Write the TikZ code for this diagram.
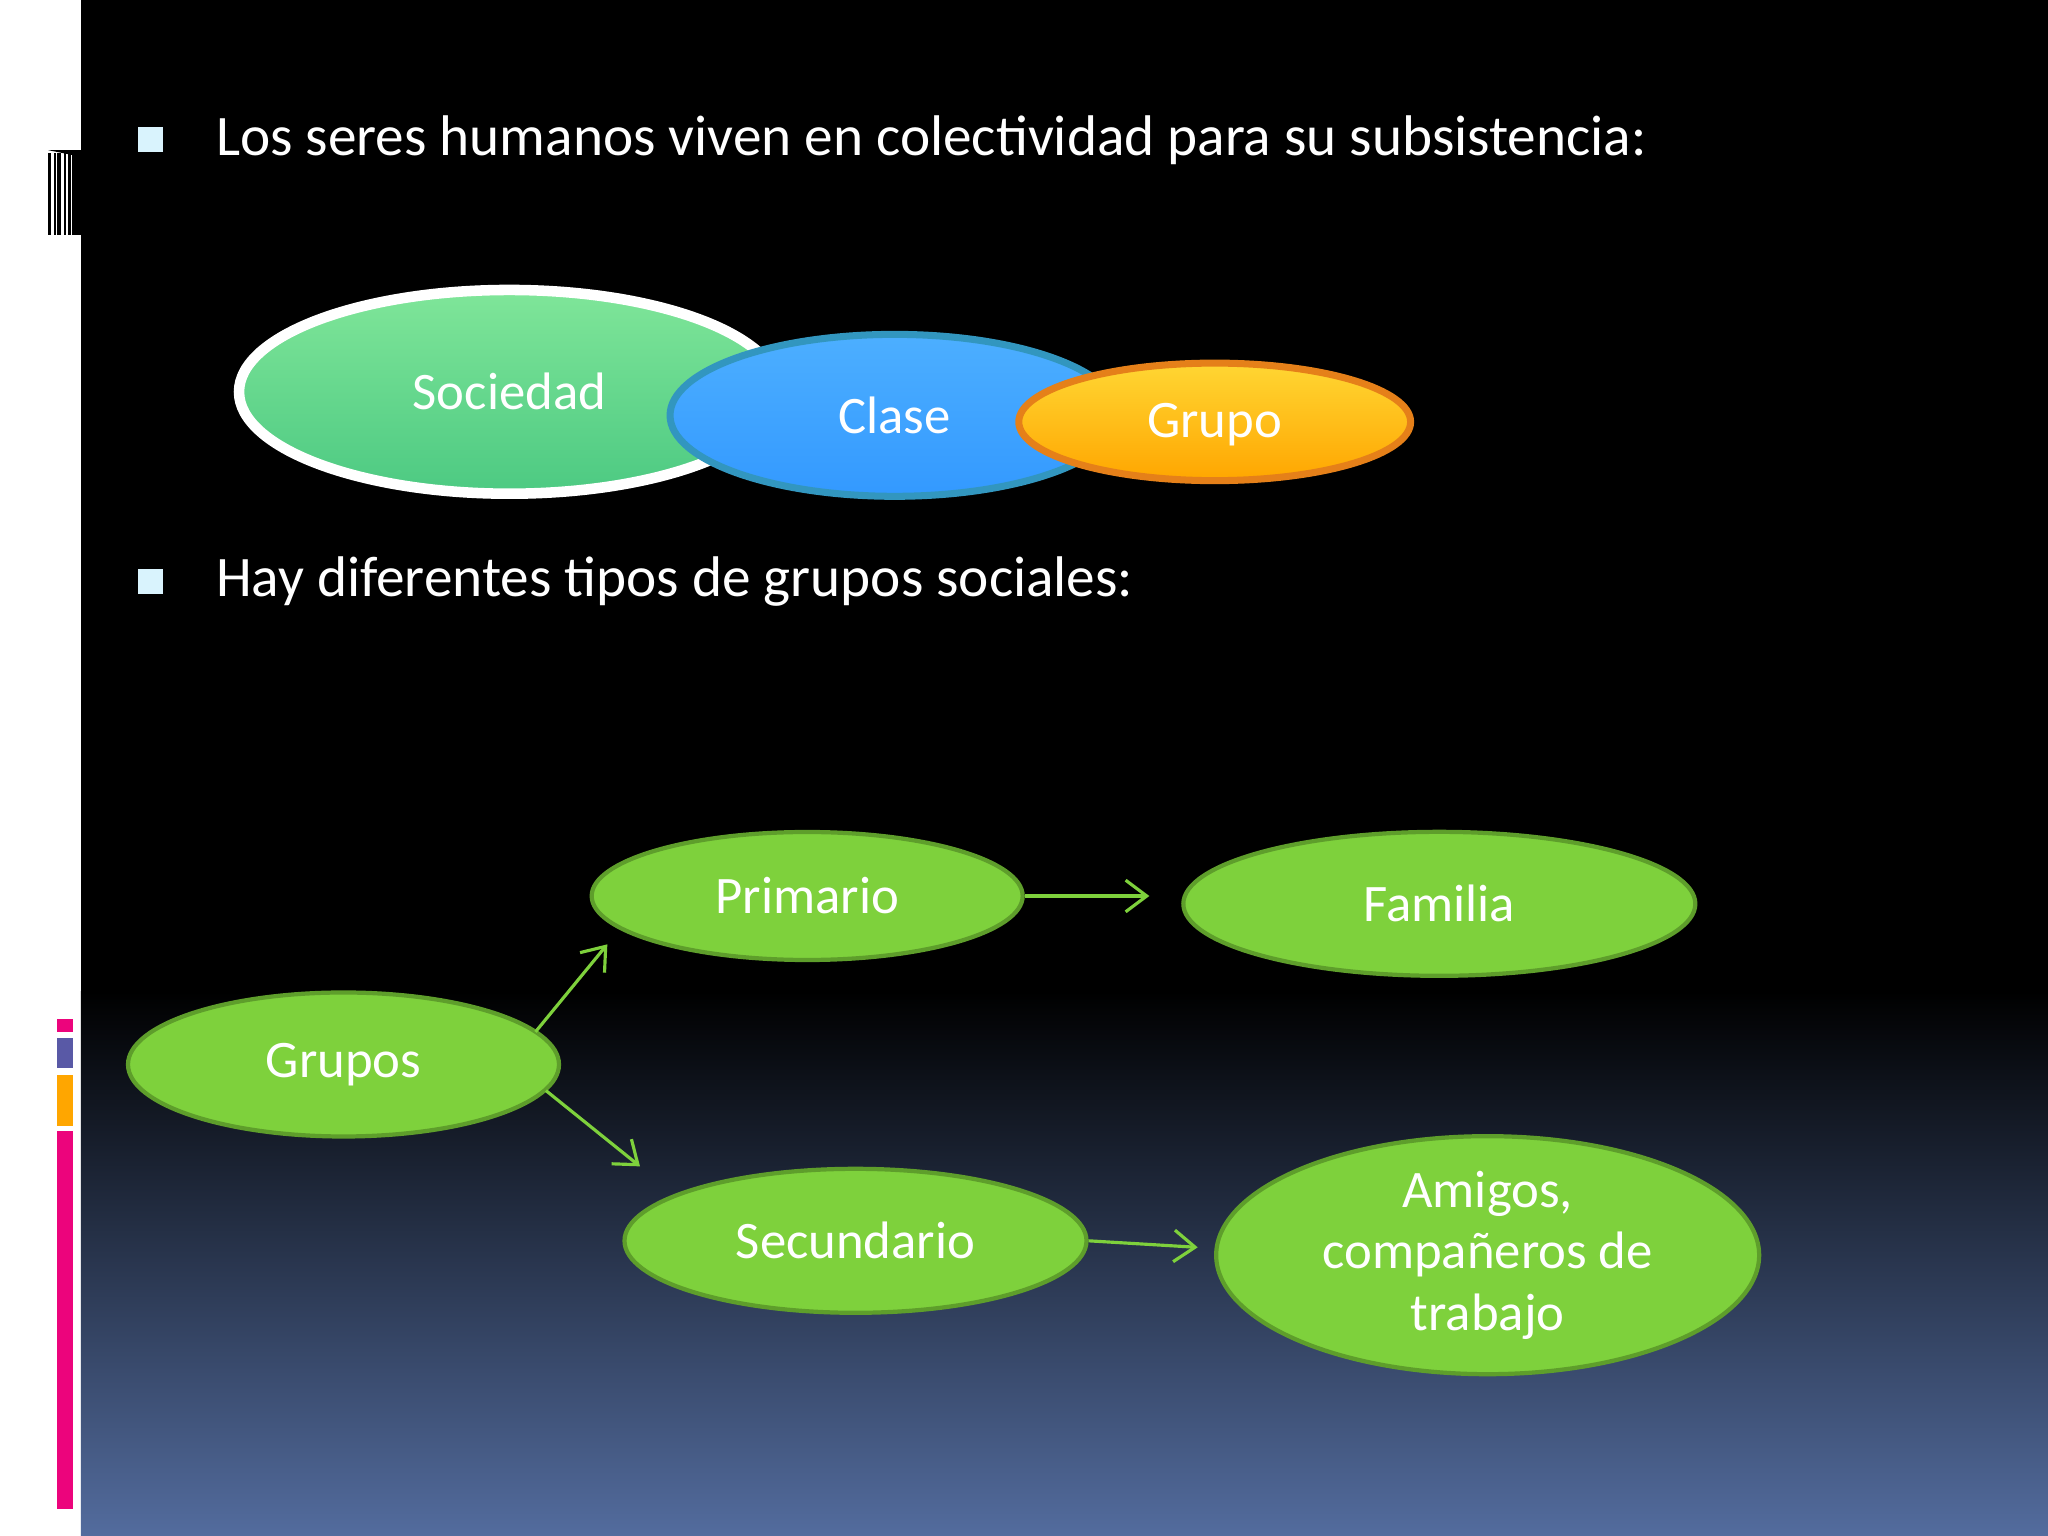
\documentclass[tikz,border=0pt]{standalone}
\usepackage{fontspec}
\setmainfont{Carlito}
\usetikzlibrary{shapes.geometric,arrows.meta}
\definecolor{gfill}{HTML}{7ED13C}
\definecolor{gline}{HTML}{5E9E2B}
\definecolor{bot}{HTML}{536C9E}
\tikzset{
  gell/.style={ellipse,draw=gline,line width=1.2pt,fill=gfill,text=white,font=\fontsize{15}{17.5}\selectfont,inner sep=0pt,align=center},
  garr/.style={draw=gfill,line width=0.9pt,-{Straight Barb[length=6pt,width=9pt]}},
  btxt/.style={anchor=west,text=white,font=\fontsize{16.3}{20}\selectfont,inner sep=0pt},
  bul/.style={fill=white!85!cyan,minimum size=7pt,inner sep=0pt},
  etxt/.style={text=white,font=\fontsize{15}{18}\selectfont}
}
\begin{document}
\begin{tikzpicture}[x=0.013061cm,y=-0.013061cm]
\useasboundingbox (0,0) rectangle (1568,1176);
\fill[white] (0,0) rectangle (62,1176);
\fill[black] (62,0) rectangle (1568,760);
\shade[top color=black,bottom color=bot] (62,759) rectangle (1568,1176);
% left decorations
\foreach \x/\w in {37/2,41/1.5,44/3,49/1.5,52/2,55/7}{\fill[black] (\x,117) rectangle ++(\w,63);}
\fill[black] (37,115) -- (62,115) -- (62,120) -- cycle;
\fill[magenta!85!red] (44,780) rectangle (56,790);
\fill[gray!70!blue] (44,795) rectangle (56,818);
\fill[orange!70!yellow] (44,823) rectangle (56,862);
\fill[magenta!85!red] (44,866) rectangle (56,1155);
% bullets
\node[bul] (b1) at (115,107) {};
\node[btxt] (t1) at (165,107) {Los seres humanos viven en colectividad para su subsistencia:};
\node[bul] (b2) at (115,445) {};
\node[btxt] (t2) at (165,445) {Hay diferentes tipos de grupos sociales:};
% top ellipses
\shade[top color=teal!40!green!50!white,bottom color=teal!60!green!70!white,draw=white,line width=3pt] (390,300) ellipse [x radius=207,y radius=78];
\node[etxt] (soc) at (390,300) {Sociedad};
\shade[top color=cyan!55!blue!70!white,bottom color=cyan!50!blue!80!white,draw=cyan!50!teal,line width=2pt] (685,318) ellipse [x radius=172,y radius=62];
\node[etxt] (cla) at (685,318) {Clase};
\shade[top color=orange!40!yellow!80!white,bottom color=orange!70!yellow,draw=orange!60!brown,line width=2pt] (930,323) ellipse [x radius=150,y radius=45];
\node[etxt] (gru) at (930,325) {Grupo};
% green diagram
\node[gell,minimum width=4.31cm,minimum height=1.28cm] (pri) at (618,686) {Primario};
\node[gell,minimum width=5.12cm,minimum height=1.44cm] (fam) at (1102,692) {Familia};
\node[gell,minimum width=4.31cm,minimum height=1.44cm] (grs) at (263,815) {Grupos};
\node[gell,minimum width=4.62cm,minimum height=1.44cm] (sec) at (655,950) {Secundario};
\node[gell,minimum width=5.43cm,minimum height=2.09cm] (ami) at (1139,961) {Amigos,\\compañeros de\\trabajo};
\coordinate (p1) at (880,686);
\coordinate (p2) at (465,723);
\coordinate (p3) at (490,893);
\coordinate (p4) at (917,955);
\coordinate (g1) at (410,790);
\coordinate (g2) at (418,835);
\draw[garr] (pri.east) -- (p1);
\draw[garr] (g1) -- (p2);
\draw[garr] (g2) -- (p3);
\draw[garr] (sec.east) -- (p4);
\end{tikzpicture}
\end{document}
